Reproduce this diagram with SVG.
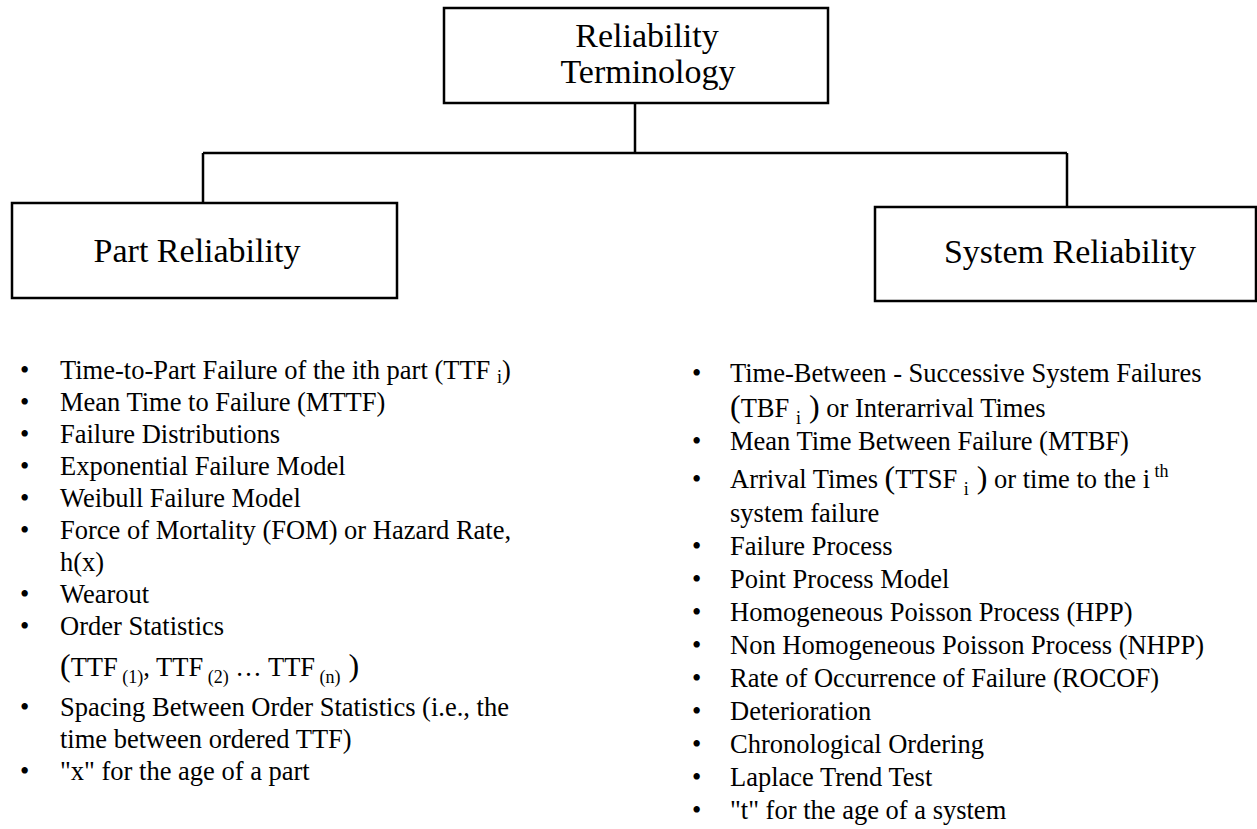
<svg xmlns="http://www.w3.org/2000/svg" width="1257" height="829" viewBox="0 0 1257 829">
<style>
.box{fill:#fff;stroke:#000;stroke-width:2.5}
.ln{fill:none;stroke:#000;stroke-width:2.5}
.h{font-family:"Liberation Serif","Times New Roman",serif;font-size:34px;fill:#000;text-anchor:middle}
.b{font-family:"Liberation Serif","Times New Roman",serif;font-size:26.5px;fill:#000}
.p{font-size:32px}
.s{font-size:18px}
</style>
<rect width="1257" height="829" fill="#fff"/>
<g id="connectors">
<path class="ln" d="M635,103 V153 M203,153 H1067 M203,153 V203 M1067,153 V207"/>
</g>
<g id="root">
<rect class="box" x="444" y="8" width="384" height="95"/>
<text class="h" x="647" y="47">Reliability</text>
<text class="h" x="648" y="83">Terminology</text>
</g>
<g id="part">
<rect class="box" x="12" y="203" width="385" height="95"/>
<text class="h" x="197" y="262">Part Reliability</text>
</g>
<g id="system">
<rect class="box" x="875" y="207" width="381" height="94"/>
<text class="h" x="1070" y="263">System Reliability</text>
</g>
<g id="part-list" class="b">
<text x="20" y="379">•</text><text x="60" y="379">Time-to-Part Failure of the ith part (TTF <tspan class="s" dy="4">i</tspan><tspan dy="-4">)</tspan></text>
<text x="20" y="411">•</text><text x="60" y="411">Mean Time to Failure (MTTF)</text>
<text x="20" y="443">•</text><text x="60" y="443">Failure Distributions</text>
<text x="20" y="475">•</text><text x="60" y="475">Exponential Failure Model</text>
<text x="20" y="507">•</text><text x="60" y="507">Weibull Failure Model</text>
<text x="20" y="539">•</text><text x="60" y="539">Force of Mortality (FOM) or Hazard Rate,</text>
<text x="60" y="571">h(x)</text>
<text x="20" y="603">•</text><text x="60" y="603">Wearout</text>
<text x="20" y="635">•</text><text x="60" y="635">Order Statistics</text>
<text x="60" y="676"><tspan class="p">(</tspan>TTF<tspan class="s" dy="7"> (1)</tspan><tspan dy="-7">, TTF</tspan><tspan class="s" dy="7"> (2)</tspan><tspan dy="-7"> … TTF</tspan><tspan class="s" dy="7"> (n)</tspan><tspan class="p" dy="-7"> )</tspan></text>
<text x="20" y="716">•</text><text x="60" y="716">Spacing Between Order Statistics (i.e., the</text>
<text x="60" y="748">time between ordered TTF)</text>
<text x="20" y="780">•</text><text x="60" y="780">"x" for the age of a part</text>
</g>
<g id="system-list" class="b">
<text x="692" y="382">•</text><text x="730" y="382">Time-Between - Successive System Failures</text>
<text x="730" y="417"><tspan class="p">(</tspan>TBF <tspan class="s" dy="7">i</tspan><tspan class="p" dy="-7"> )</tspan> or Interarrival Times</text>
<text x="692" y="450">•</text><text x="730" y="450">Mean Time Between Failure (MTBF)</text>
<text x="692" y="488">•</text><text x="730" y="488">Arrival Times <tspan class="p">(</tspan>TTSF <tspan class="s" dy="7">i</tspan><tspan class="p" dy="-7"> )</tspan> or time to the i<tspan class="s" dy="-11"> th</tspan></text>
<text x="730" y="522">system failure</text>
<text x="692" y="555">•</text><text x="730" y="555">Failure Process</text>
<text x="692" y="588">•</text><text x="730" y="588">Point Process Model</text>
<text x="692" y="621">•</text><text x="730" y="621">Homogeneous Poisson Process (HPP)</text>
<text x="692" y="654">•</text><text x="730" y="654">Non Homogeneous Poisson Process (NHPP)</text>
<text x="692" y="687">•</text><text x="730" y="687">Rate of Occurrence of Failure (ROCOF)</text>
<text x="692" y="720">•</text><text x="730" y="720">Deterioration</text>
<text x="692" y="753">•</text><text x="730" y="753">Chronological Ordering</text>
<text x="692" y="786">•</text><text x="730" y="786">Laplace Trend Test</text>
<text x="692" y="819">•</text><text x="730" y="819">"t" for the age of a system</text>
</g>
</svg>
